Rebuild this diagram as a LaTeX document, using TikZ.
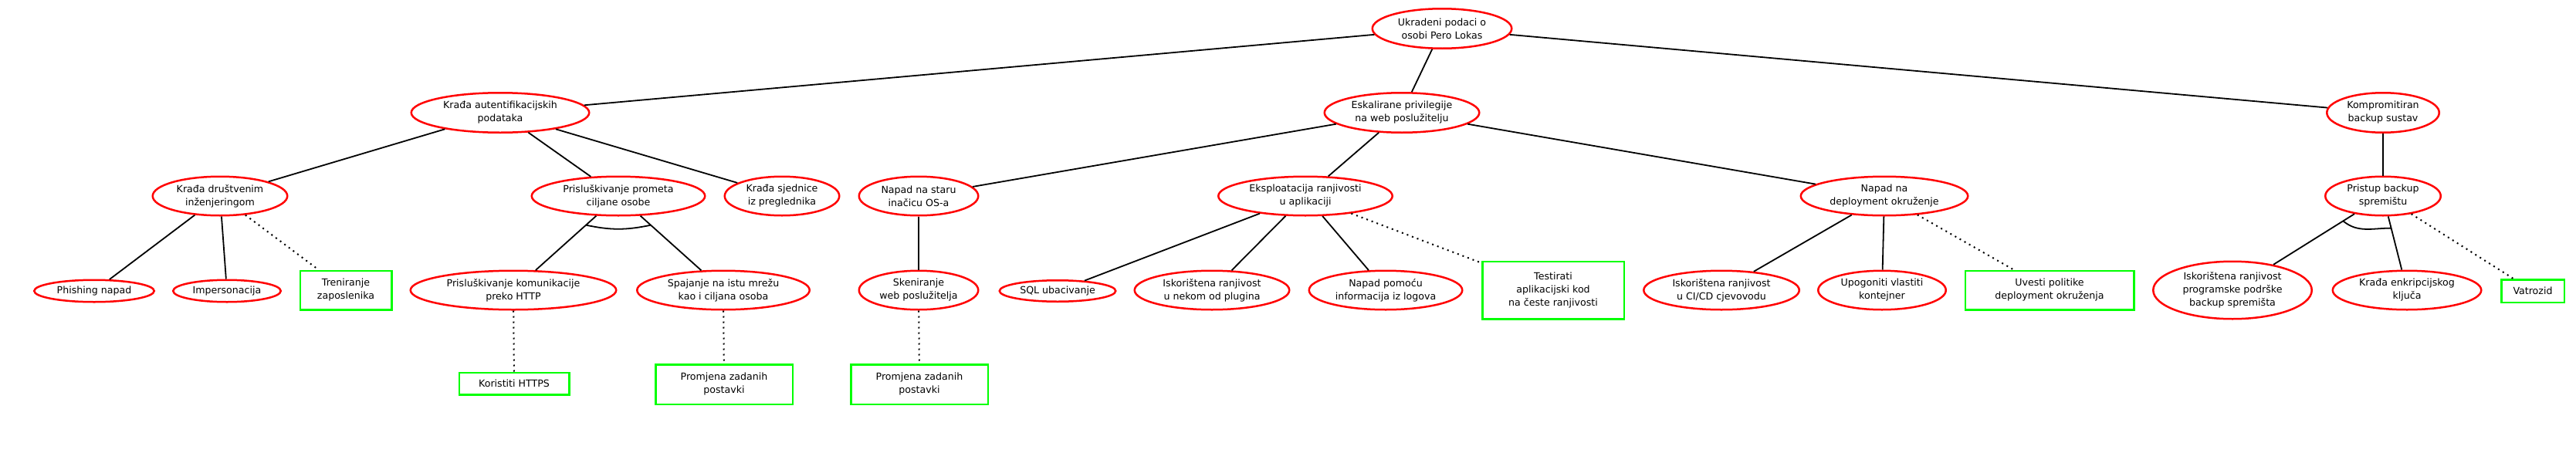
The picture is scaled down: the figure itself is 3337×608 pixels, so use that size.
\documentclass[tikz,border=0pt]{standalone}
\usepackage{fontspec}
\setmainfont{DejaVu Sans}
\usetikzlibrary{shapes.geometric}
\tikzset{
  every node/.style={font=\fontsize{12.6}{17}\selectfont, align=center, inner sep=0pt},
  att/.style 2 args={ellipse, draw=red, line width=2.5pt, minimum width=#1pt-2.5pt, minimum height=#2pt-2.5pt},
  def/.style 2 args={rectangle, draw=green, line width=2.5pt, minimum width=#1pt-2.5pt, minimum height=#2pt-2.5pt},
  edge/.style={line width=1.8pt, draw=black},
  defedge/.style={line width=2pt, draw=black, dash pattern=on 2pt off 5pt},
}
\begin{document}
\begin{tikzpicture}[x=1pt,y=-1pt]
\fill[white] (0,0) rectangle (3337,608);
\useasboundingbox (0,0) rectangle (3337,608);
% level 0
\node[att={183}{54}] (root) at (1868,37) {Ukradeni podaci o\\osobi Pero Lokas};
% level 1
\node[att={233}{54}] (kaut) at (648,146) {Krađa autentifikacijskih\\podataka};
\node[att={203}{54}] (eskal) at (1816,146) {Eskalirane privilegije\\na web poslužitelju};
\node[att={148}{54}] (komp) at (3087,146) {Kompromitiran\\backup sustav};
% level 2
\node[att={177}{53}] (kdru) at (285,254) {Krađa društvenim\\inženjeringom};
\node[att={227}{53}] (pris) at (801,254) {Prisluškivanje prometa\\ciljane osobe};
\node[att={151}{53}] (ksje) at (1013,254) {Krađa sjednice\\iz preglednika};
\node[att={157}{53}] (nos) at (1190,254) {Napad na staru\\inačicu OS-a};
\node[att={228}{53}] (eksp) at (1691,254) {Eksploatacija ranjivosti\\u aplikaciji};
\node[att={219}{53}] (ndep) at (2441,254) {Napad na\\deployment okruženje};
\node[att={152}{53}] (pbak) at (3087,254) {Pristup backup\\spremištu};
% level 3
\node[att={158}{31}] (phish) at (122,377) {Phishing napad};
\node[att={142}{31}] (imper) at (294,377) {Impersonacija};
\node[def={121}{53}] (tren) at (448,376) {Treniranje\\zaposlenika};
\node[att={269}{53}] (pkom) at (665,376) {Prisluškivanje komunikacije\\preko HTTP};
\node[att={226}{53}] (spaj) at (937,376) {Spajanje na istu mrežu\\kao i ciljana osoba};
\node[att={157}{53}] (sken) at (1190,376) {Skeniranje\\web poslužitelja};
\node[att={153}{30}] (sql) at (1370,377) {SQL ubacivanje};
\node[att={203}{53}] (iplug) at (1570,376) {Iskorištena ranjivost\\u nekom od plugina};
\node[att={201}{53}] (nlog) at (1795,376) {Napad pomoću\\informacija iz logova};
\node[def={186}{77}] (test) at (2012,376) {Testirati\\aplikacijski kod\\na česte ranjivosti};
\node[att={204}{53}] (icicd) at (2230,376) {Iskorištena ranjivost\\u CI/CD cjevovodu};
\node[att={168}{53}] (upog) at (2438,376) {Upogoniti vlastiti\\kontejner};
\node[def={221}{53}] (uvest) at (2655,376) {Uvesti politike\\deployment okruženja};
\node[att={208}{77}] (iprog) at (2892,376) {Iskorištena ranjivost\\programske podrške\\backup spremišta};
\node[att={195}{53}] (kenk) at (3118,376) {Krađa enkripcijskog\\ključa};
\node[def={84}{32}] (vatro) at (3281,377) {Vatrozid};
% level 4
\node[def={145}{31}] (https) at (666,497) {Koristiti HTTPS};
\node[def={180}{54}] (prom1) at (938,498) {Promjena zadanih\\postavki};
\node[def={180}{54}] (prom2) at (1191,498) {Promjena zadanih\\postavki};
% solid edges
\draw[edge] (root) -- (kaut);
\draw[edge] (root) -- (eskal);
\draw[edge] (root) -- (komp);
\draw[edge] (kaut) -- (kdru);
\draw[edge] (kaut) -- (pris);
\draw[edge] (kaut) -- (ksje);
\draw[edge] (kdru) -- (phish);
\draw[edge] (kdru) -- (imper);
\draw[edge] (pris) -- coordinate[pos=0.17] (a1) (pkom);
\draw[edge] (pris) -- coordinate[pos=0.17] (a2) (spaj);
\draw[edge] (a1) to[bend right=12] (a2);
\draw[edge] (eskal) -- (nos);
\draw[edge] (eskal) -- (eksp);
\draw[edge] (eskal) -- (ndep);
\draw[edge] (nos) -- (sken);
\draw[edge] (eksp) -- (sql);
\draw[edge] (eksp) -- (iplug);
\draw[edge] (eksp) -- (nlog);
\draw[edge] (ndep) -- (icicd);
\draw[edge] (ndep) -- (upog);
\draw[edge] (komp) -- (pbak);
\draw[edge] (pbak) -- coordinate[pos=0.14] (b1) (iprog);
\draw[edge] (pbak) -- coordinate[pos=0.22] (b2) (kenk);
\draw[edge] (b1) to[out=-40, in=180] (b2);
% dotted edges
\draw[defedge] (kdru) -- (tren);
\draw[defedge] (pkom) -- (https);
\draw[defedge] (spaj) -- (prom1);
\draw[defedge] (sken) -- (prom2);
\draw[defedge] (eksp) -- (test);
\draw[defedge] (ndep) -- (uvest);
\draw[defedge] (pbak) -- (vatro);
\end{tikzpicture}
\end{document}
